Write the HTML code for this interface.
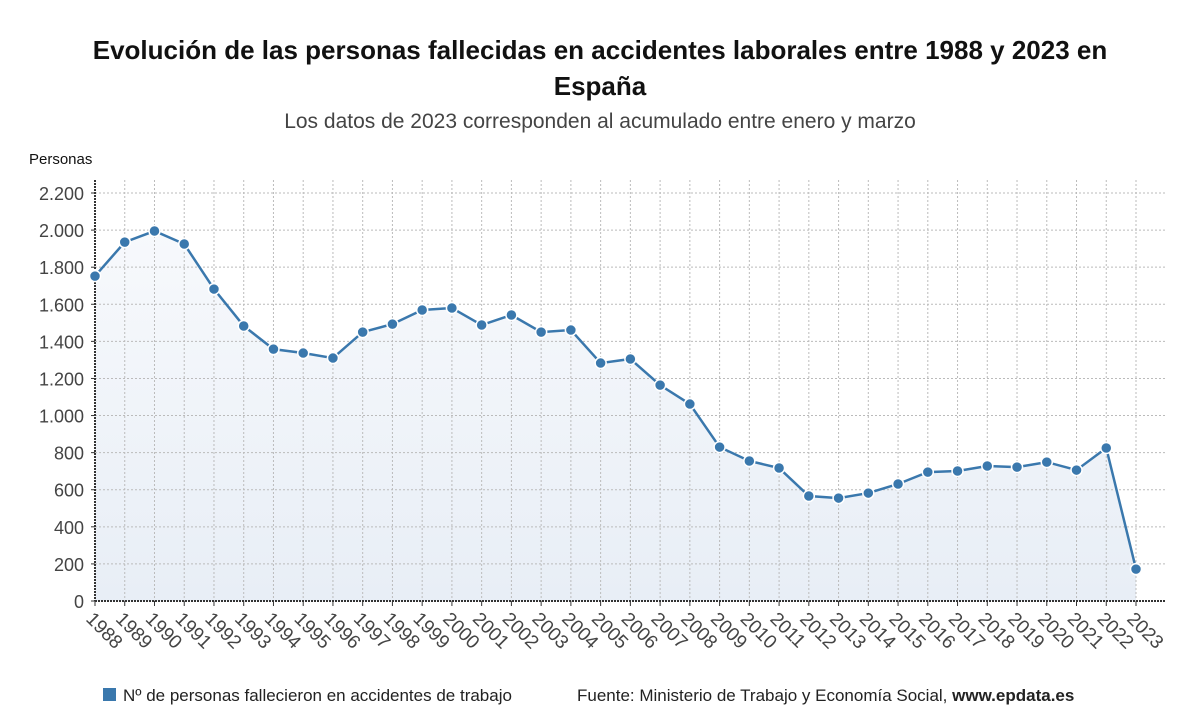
<!DOCTYPE html>
<html><head><meta charset="utf-8">
<style>
body{margin:0;background:#fff;font-family:"Liberation Sans","DejaVu Sans",sans-serif;}
#wrap{position:relative;width:1200px;height:705px;overflow:hidden;}
.t{position:absolute;left:0;width:1200px;text-align:center;}
</style></head><body>
<div id="wrap">
<div class="t" style="top:32px;font-size:26px;font-weight:bold;line-height:36px;color:#111;">Evolución de las personas fallecidas en accidentes laborales entre 1988 y 2023 en<br>España</div>
<div class="t" style="top:110px;font-size:21px;color:#444;">Los datos de 2023 corresponden al acumulado entre enero y marzo</div>
<svg id="svg" width="1200" height="705" style="position:absolute;left:0;top:0"></svg>
</div>
<script>
const years=["1988","1989","1990","1991","1992","1993","1994","1995","1996","1997","1998","1999","2000","2001","2002","2003","2004","2005","2006","2007","2008","2009","2010","2011","2012","2013","2014","2015","2016","2017","2018","2019","2020","2021","2022","2023"];
const deaths=[1752,1935,1995,1925,1682,1483,1358,1337,1310,1450,1493,1569,1580,1488,1542,1450,1461,1283,1305,1164,1062,830,755,717,566,555,582,631,695,701,728,722,749,706,825,172];
const yTicks=[0,200,400,600,800,1000,1200,1400,1600,1800,2000,2200];
const yLabels=["0","200","400","600","800","1.000","1.200","1.400","1.600","1.800","2.000","2.200"];
const NS="http://www.w3.org/2000/svg";
const svg=document.getElementById('svg');
const x0=95,x1=1136,y0=601,y1=193;
const xs=i=>x0+(x1-x0)*i/(years.length-1);
const ys=v=>y0-(y0-y1)*v/2200;
function mk(tag,attrs,parent){const e=document.createElementNS(NS,tag);for(const k in attrs)e.setAttribute(k,attrs[k]);(parent||svg).appendChild(e);return e;}
const defs=mk('defs',{});
const g=mk('linearGradient',{id:'gr',x1:0,y1:0,x2:0,y2:1},defs);
mk('stop',{offset:'0','stop-color':'#f7f9fc'},g);mk('stop',{offset:'1','stop-color':'#e8eef6'},g);
let d=`M${xs(0)},${y0}`;deaths.forEach((v,i)=>d+=`L${xs(i)},${ys(v)}`);d+=`L${xs(deaths.length-1)},${y0}Z`;
const area=mk('path',{d:d,fill:'url(#gr)'});


yTicks.forEach((v,i)=>{
 if(v>0){const l=mk('line',{x1:x0,x2:1165,y1:ys(v),y2:ys(v),stroke:'#bbb','stroke-dasharray':'2,2'});
 
 }
 const t=mk('text',{x:84,y:ys(v)+7,'text-anchor':'end','font-size':18,fill:'#444'});t.textContent=yLabels[i];
 
 
 mk('line',{x1:x0-4,x2:x0,y1:ys(v),y2:ys(v),stroke:'#333'});
});
years.forEach((yr,i)=>{
 if(i>0){const l=mk('line',{x1:xs(i),x2:xs(i),y1:180,y2:y0,stroke:'#bbb','stroke-dasharray':'2,2'});
 
 }
 mk('line',{x1:xs(i),x2:xs(i),y1:y0,y2:y0+5,stroke:'#333'});
 const t=mk('text',{x:xs(i)-10,y:y0+19,'font-size':19,fill:'#444',transform:`rotate(45 ${xs(i)-10} ${y0+19})`});t.textContent=yr;
 
 
});
mk('line',{x1:x0,x2:x0,y1:180,y2:y0,stroke:'#333','stroke-width':2,'stroke-dasharray':'2,1'});
mk('line',{x1:x0,x2:1165,y1:y0,y2:y0,stroke:'#333','stroke-width':2,'stroke-dasharray':'2,1'});
const yt=mk('text',{x:29,y:164,'font-size':15,fill:'#111'});yt.textContent='Personas';


let p='';deaths.forEach((v,i)=>p+=(i?'L':'M')+xs(i)+','+ys(v));
const line=mk('path',{d:p,fill:'none',stroke:'#3a78ad','stroke-width':2.5});


deaths.forEach((v,i)=>{const c=mk('circle',{cx:xs(i),cy:ys(v),r:5.5,fill:'#3a78ad',stroke:'#fff','stroke-width':1.5});
 
 });
mk('rect',{x:103,y:688,width:13,height:13,fill:'#3a78ad'});
const lg=mk('text',{x:123,y:701,'font-size':17,fill:'#222'});lg.textContent='Nº de personas fallecieron en accidentes de trabajo';


const src=mk('text',{x:577,y:701,'font-size':17,fill:'#222'});src.innerHTML='Fuente: Ministerio de Trabajo y Economía Social, <tspan font-weight="bold">www.epdata.es</tspan>';


</script>
</body></html>
